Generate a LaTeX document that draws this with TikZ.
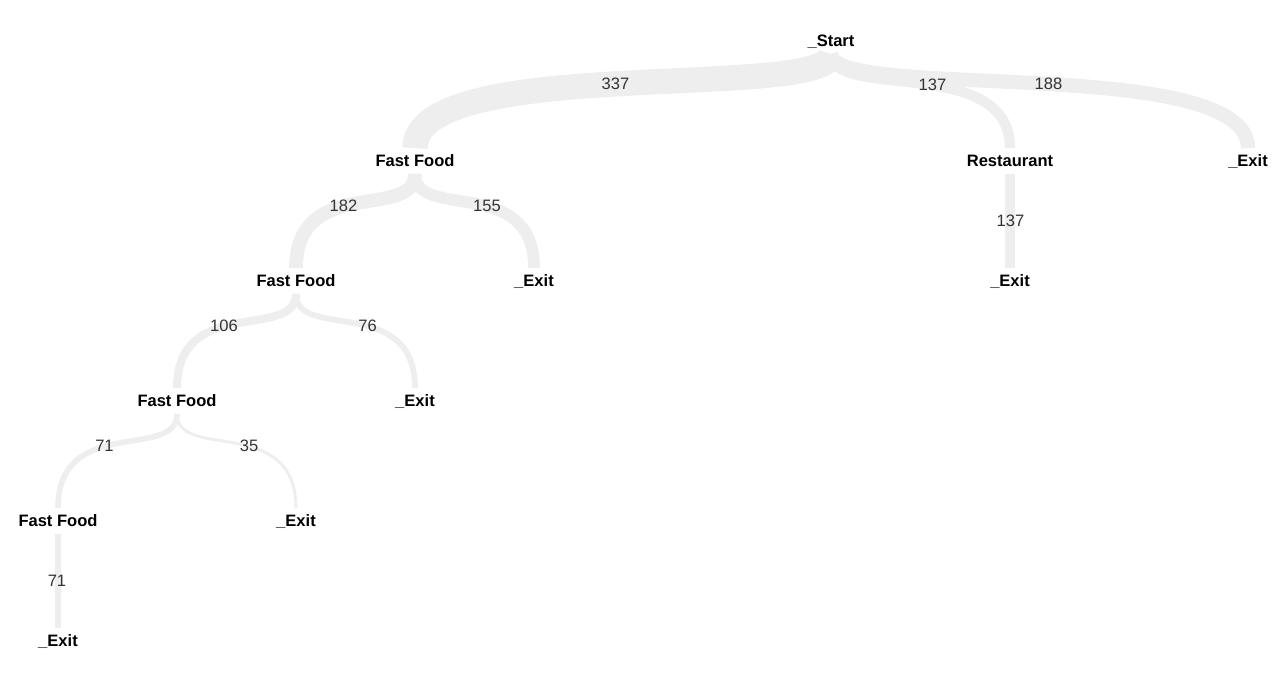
\documentclass[tikz,border=0pt]{standalone}
\usepackage{fontspec}
\setmainfont{Liberation Sans}
\usetikzlibrary{calc}
\definecolor{linkgray}{HTML}{EEEEEE}
\definecolor{numgray}{HTML}{333333}
\tikzset{ t/.style = { font         = \fontsize{12.4pt}{14pt}\selectfont\bfseries
                     , inner xsep   = 2pt
                     , inner ysep   = 5pt
                     , text height  = 8.9pt
                     , text depth   = 0pt
                     },
          num/.style = { font        = \fontsize{12.4pt}{14pt}\selectfont
                       , text        = numgray
                       , inner sep   = 0pt
                       , text height = 8.9pt
                       , text depth  = 0pt
                       },
          lk/.style = { draw = linkgray }
        }

\begin{document}
\begin{tikzpicture}[x=0.75pt, y=-0.75pt]
            \useasboundingbox (0,0) rectangle (1288,684);
            % levels
            \node[t] (s)  at (831,41)  {\_Start};
            \node[t] (f1) at (415,161) {Fast Food};
            \node[t] (r1) at (1010,161) {Restaurant};
            \node[t] (e0) at (1248,161) {\_Exit};
            \node[t] (f2) at (296,281) {Fast Food};
            \node[t] (e1) at (534,281) {\_Exit};
            \node[t] (er) at (1010,281) {\_Exit};
            \node[t] (f3) at (177,401) {Fast Food};
            \node[t] (e2) at (415,401) {\_Exit};
            \node[t] (f4) at (58,521)  {Fast Food};
            \node[t] (e3) at (296,521) {\_Exit};
            \node[t] (e4) at (58,641)  {\_Exit};
            % links
            \draw[lk, line width=19pt]  (s.south) .. controls ($(s.south)+(0,47.4)$) and (f1.north |- s.south) .. (f1.north);
            \draw[lk, line width=7.8pt] (s.south) .. controls ($(s.south)+(0,47.4)$) and (r1.north |- s.south) .. (r1.north);
            \draw[lk, line width=10.7pt] (s.south) .. controls ($(s.south)+(0,47.4)$) and (e0.north |- s.south) .. (e0.north);
            \draw[lk, line width=10.3pt] (f1.south) .. controls ($(f1.south)+(0,47.4)$) and (f2.north |- f1.south) .. (f2.north);
            \draw[lk, line width=8.8pt] (f1.south) .. controls ($(f1.south)+(0,47.4)$) and (e1.north |- f1.south) .. (e1.north);
            \draw[lk, line width=7.8pt] (r1.south) -- (er.north);
            \draw[lk, line width=6.1pt] (f2.south) .. controls ($(f2.south)+(0,47.4)$) and (f3.north |- f2.south) .. (f3.north);
            \draw[lk, line width=4.4pt] (f2.south) .. controls ($(f2.south)+(0,47.4)$) and (e2.north |- f2.south) .. (e2.north);
            \draw[lk, line width=4.2pt] (f3.south) .. controls ($(f3.south)+(0,47.4)$) and (f4.north |- f3.south) .. (f4.north);
            \draw[lk, line width=2.2pt] (f3.south) .. controls ($(f3.south)+(0,47.4)$) and (e3.north |- f3.south) .. (e3.north);
            \draw[lk, line width=4.2pt] (f4.south) -- (e4.north);
            % counts
            \node[num] (n1)  at (615.5,83.5) {337};
            \node[num] (n2)  at (932.5,84.5) {137};
            \node[num] (n3)  at (1048.5,83.5) {188};
            \node[num] (n4)  at (343.5,205.5) {182};
            \node[num] (n5)  at (487,205.5) {155};
            \node[num] (n6)  at (1010.5,220.5) {137};
            \node[num] (n7)  at (224,325.5) {106};
            \node[num] (n8)  at (367.5,325.5) {76};
            \node[num] (n9)  at (104.5,445.5) {71};
            \node[num] (n10) at (249,445.5) {35};
            \node[num] (n11) at (57,580.5) {71};
\end{tikzpicture}
\end{document}
